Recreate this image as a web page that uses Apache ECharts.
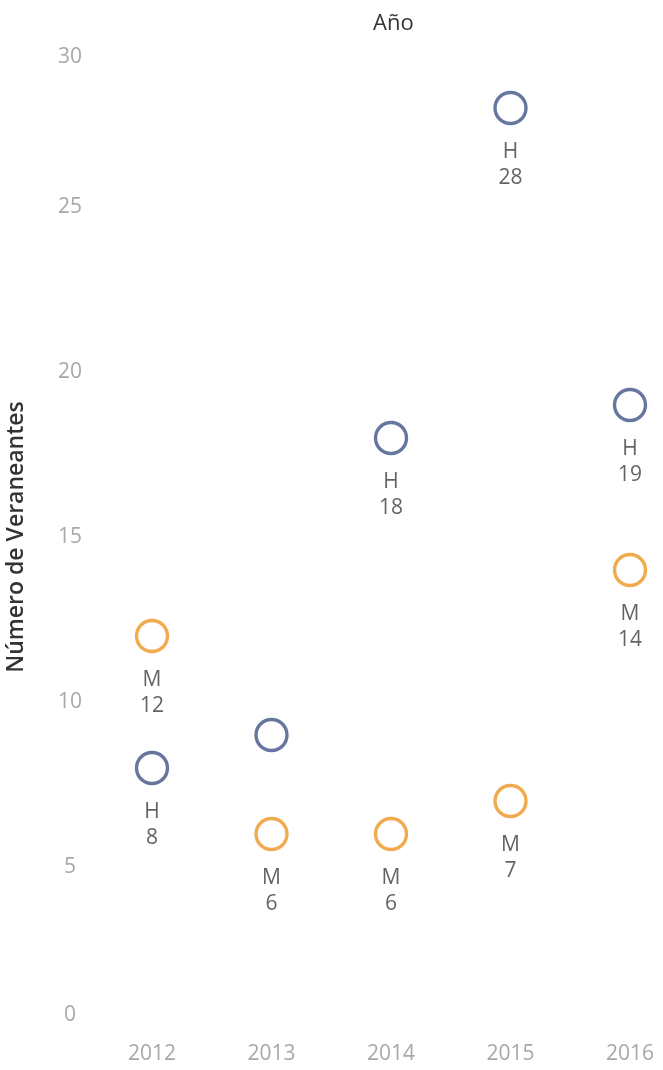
<!DOCTYPE html>
<html>
<head>
<meta charset="utf-8">
<script src="https://cdn.jsdelivr.net/npm/echarts@6/dist/echarts.min.js"></script>
<style>
html,body{margin:0;padding:0;background:#fff;}
#chart{width:663px;height:1070px;}
</style>
</head>
<body>
<div id="chart"></div>
<script>
var years = ['2012', '2013', '2014', '2015', '2016'];
var hombres = [8, 9, 18, 28, 19];
var mujeres = [12, 6, 6, 7, 14];
var hombresLabelShown = [true, false, true, true, true];
var mujeresLabelShown = [true, true, true, true, true];
var yTicks = [0, 5, 10, 15, 20, 25, 30];

var FONT = '"Open Sans", "Noto Sans", sans-serif';
var BLUE = '#3f5586';
var ORANGE = '#ed9520';
var TICK = '#a8a8a8';

function buildData(values, shown) {
  return values.map(function (v, i) {
    return { value: [years[i], v], label: { show: shown[i] } };
  });
}

function seriesFor(name, letter, values, shown, color) {
  return {
    name: name,
    type: 'scatter',
    symbol: 'circle',
    symbolSize: 31,
    itemStyle: { color: 'rgba(255,255,255,0)', borderColor: color, borderWidth: 3.4 },
    label: {
      show: true,
      position: 'bottom',
      distance: 14,
      formatter: function (p) { return letter + '\n' + p.value[1]; },
      fontFamily: FONT,
      fontSize: 21,
      lineHeight: 26,
      color: '#3c3c3c',
      align: 'center'
    },
    data: buildData(values, shown)
  };
}

var chart = echarts.init(document.getElementById('chart'), null, { renderer: 'canvas' });
chart.setOption({
  animation: false,
  backgroundColor: '#ffffff',
  title: {
    text: 'Año',
    left: 368,
    top: 8,
    textStyle: { fontFamily: FONT, fontSize: 22, fontWeight: 'normal', color: '#333333' }
  },
  grid: { left: 152, right: 33, top: 42, bottom: 38, containLabel: false, outerBoundsMode: 'none' },
  xAxis: {
    type: 'category',
    data: years,
    boundaryGap: false,
    axisLine: { show: false },
    axisTick: { show: false },
    splitLine: { show: false },
    axisLabel: { margin: 12, fontFamily: FONT, fontSize: 21, color: TICK }
  },
  yAxis: {
    type: 'value',
    min: 0,
    max: 30,
    interval: 5,
    name: 'Número de Veraneantes',
    nameLocation: 'middle',
    nameGap: 124,
    nameTextStyle: { fontFamily: FONT, fontSize: 23, fontWeight: 600, color: '#333333' },
    axisLine: { show: false },
    axisTick: { show: false },
    splitLine: { show: false },
    axisLabel: {
      margin: 82,
      align: 'center',
      fontFamily: FONT,
      fontSize: 21,
      color: TICK,
      formatter: function (v) {
        if (yTicks.indexOf(v) < 0) return '';
        if (v === 30) return '{top|' + v + '}';
        if (v === 0) return '{bot|' + v + '}';
        return '{mid|' + v + '}';
      },
      rich: {
        top: { padding: [30, 0, 0, 0], fontFamily: FONT, fontSize: 21, color: TICK },
        bot: { padding: [0, 0, 34, 0], fontFamily: FONT, fontSize: 21, color: TICK },
        mid: { fontFamily: FONT, fontSize: 21, color: TICK }
      }
    }
  },
  series: [
    seriesFor('H', 'H', hombres, hombresLabelShown, BLUE),
    seriesFor('M', 'M', mujeres, mujeresLabelShown, ORANGE)
  ]
});
</script>
</body>
</html>
